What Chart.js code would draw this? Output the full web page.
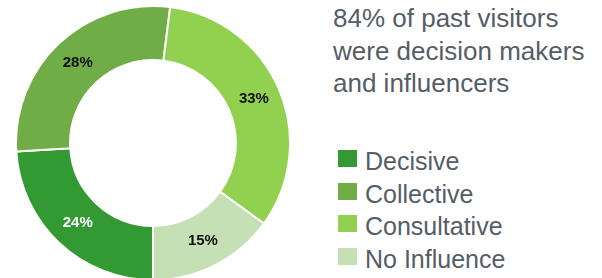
<!DOCTYPE html>
<html>
<head>
<meta charset="utf-8">
<script src="https://cdn.jsdelivr.net/npm/chart.js@4.4.0/dist/chart.umd.min.js"></script>
<style>
  html, body { margin: 0; padding: 0; background: #fff; width: 602px; height: 278px; overflow: hidden; position: relative; }
  #wrap { position: absolute; left: 15px; top: 5px; width: 276px; height: 276px; }
  #title { position: absolute; left: 333px; top: 2px; font-family: "Liberation Sans", Arial, sans-serif; font-size: 26px; line-height: 32.5px; color: #555d67; white-space: nowrap; }
  #legend { position: absolute; left: 338px; top: 145px; font-family: "Liberation Sans", Arial, sans-serif; font-size: 25px; line-height: 32.6px; color: #555d67; }
  .row { position: relative; height: 32.6px; padding-left: 27px; white-space: nowrap; }
  .sw { position: absolute; left: 0; top: 5px; width: 19px; height: 17px; }
</style>
</head>
<body>
<div id="wrap"><canvas id="c" width="276" height="276"></canvas></div>
<div id="title"></div>
<div id="legend"></div>
<script>
const categories = ["Decisive", "Collective", "Consultative", "No Influence"];
const values = [24, 28, 33, 15];
const colors = ["#339933", "#70AD47", "#92D050", "#C5E0B4"];
const labelColors = ["#ffffff", "#111111", "#111111", "#111111"];
const titleLines = ["84% of past visitors", "were decision makers", "and influencers"];

document.getElementById('title').innerHTML = titleLines.map(t => '<div>' + t + '</div>').join('');
const legend = document.getElementById('legend');
categories.forEach((c, i) => {
  const row = document.createElement('div');
  row.className = 'row';
  const sw = document.createElement('span');
  sw.className = 'sw';
  sw.style.background = colors[i];
  row.appendChild(sw);
  row.appendChild(document.createTextNode(c));
  legend.appendChild(row);
});

const sliceLabels = {
  id: 'sliceLabels',
  afterDatasetsDraw(chart) {
    const ctx = chart.ctx;
    const meta = chart.getDatasetMeta(0);
    ctx.save();
    ctx.font = 'bold 15px "Liberation Sans", Arial, sans-serif';
    ctx.textAlign = 'center';
    ctx.textBaseline = 'middle';
    meta.data.forEach((arc, i) => {
      const p = arc.tooltipPosition();
      ctx.fillStyle = labelColors[i];
      ctx.fillText(values[i] + '%', p.x, p.y);
    });
    ctx.restore();
  }
};

new Chart(document.getElementById('c'), {
  type: 'doughnut',
  data: {
    labels: categories,
    datasets: [{
      data: values,
      backgroundColor: colors,
      borderColor: '#ffffff',
      borderWidth: 2
    }]
  },
  options: {
    responsive: false,
    animation: false,
    rotation: 180,
    cutout: '60.5%',
    layout: { padding: 0 },
    plugins: { legend: { display: false }, tooltip: { enabled: false } }
  },
  plugins: [sliceLabels]
});
</script>
</body>
</html>
